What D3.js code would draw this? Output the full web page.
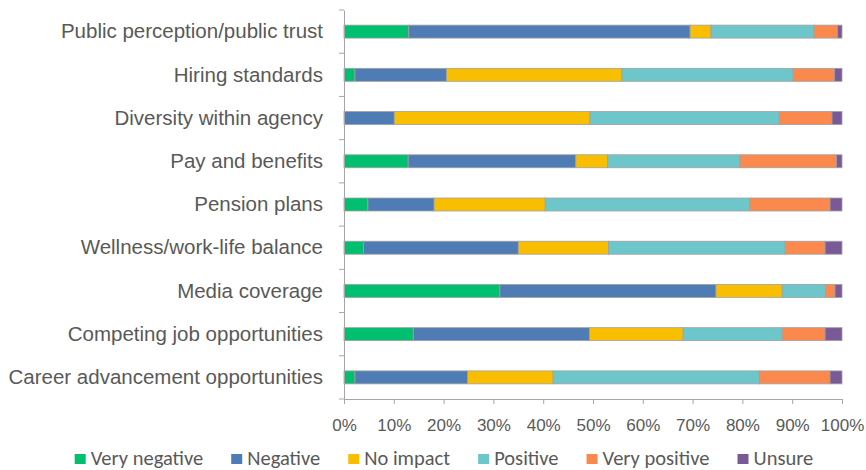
<!DOCTYPE html>
<html>
<head>
<meta charset="utf-8">
<script src="https://cdn.jsdelivr.net/npm/d3@7"></script>
<style>
  html, body { margin: 0; padding: 0; background: #fff; }
  svg { display: block; font-family: Carlito, Lato, "Open Sans", sans-serif; }
</style>
</head>
<body>
<svg id="chart" width="866" height="470"></svg>
<script>
// Factors, listed top to bottom
const categories = [
  "Public perception/public trust",
  "Hiring standards",
  "Diversity within agency",
  "Pay and benefits",
  "Pension plans",
  "Wellness/work-life balance",
  "Media coverage",
  "Competing job opportunities",
  "Career advancement opportunities"
];

// Share of responses (%) per factor, one array per answer
const veryNegative = [13.0, 2.2, 0.0, 12.9, 4.8, 3.9, 31.3, 13.9, 2.2];
const negative     = [56.5, 18.4, 10.1, 33.7, 13.3, 31.1, 43.4, 35.4, 22.6];
const noImpact     = [4.2, 35.2, 39.3, 6.4, 22.3, 18.1, 13.3, 18.8, 17.2];
const positive     = [20.7, 34.4, 38.0, 26.6, 41.1, 35.5, 8.7, 19.9, 41.4];
const veryPositive = [4.7, 8.3, 10.6, 19.4, 16.1, 8.0, 1.9, 8.6, 14.2];
const unsure       = [0.9, 1.5, 2.0, 1.1, 2.4, 3.4, 1.4, 3.4, 2.4];

const seriesNames  = ["Very negative", "Negative", "No impact", "Positive", "Very positive", "Unsure"];
const seriesValues = [veryNegative, negative, noImpact, positive, veryPositive, unsure];
const seriesColors = ["#00bf6f", "#4f7cb4", "#f9be00", "#6dc6ca", "#fb894d", "#795a96"];

const tickValues = [0, 0.1, 0.2, 0.3, 0.4, 0.5, 0.6, 0.7, 0.8, 0.9, 1.0];

// Build rows for d3.stack, normalised to 100%
const rows = categories.map((c, i) => {
  const row = { category: c };
  const total = d3.sum(seriesValues, s => s[i]);
  seriesNames.forEach((k, j) => { row[k] = seriesValues[j][i] / total; });
  return row;
});

const svg = d3.select("#chart");
const textColor = "#595959";
const axisColor = "#a6a6a6";

const x = d3.scaleLinear().domain([0, 1]).range([344, 842]);
const y = d3.scaleBand().domain(categories).range([10, 399])
  .paddingInner(0.7).paddingOuter(0.35);
const color = d3.scaleOrdinal().domain(seriesNames).range(seriesColors);

const stacked = d3.stack().keys(seriesNames)(rows);

// Stacked bars
svg.append("g")
  .selectAll("g")
  .data(stacked)
  .join("g")
    .attr("fill", d => color(d.key))
  .selectAll("rect")
  .data(d => d)
  .join("rect")
    .attr("x", d => x(d[0]))
    .attr("y", d => y(d.data.category))
    .attr("width", d => Math.max(0, x(d[1]) - x(d[0])))
    .attr("height", y.bandwidth())
    .attr("stroke", "#a0a0a0")
    .attr("stroke-width", 0.8);

// X axis
const xAxis = svg.append("g")
  .attr("transform", `translate(0,${y.range()[1]})`)
  .call(d3.axisBottom(x).tickValues(tickValues).tickFormat(d3.format(".0%"))
    .tickSize(5).tickSizeOuter(0));
xAxis.select(".domain").attr("stroke", axisColor);
xAxis.selectAll(".tick line").attr("stroke", axisColor);
xAxis.selectAll(".tick text")
  .attr("fill", textColor)
  .attr("font-size", 17)
  .attr("dy", 24);

// Y axis: category labels and ticks on the band boundaries
const yAxis = svg.append("g")
  .attr("transform", `translate(${x(0)},0)`)
  .call(d3.axisLeft(y).tickSize(0).tickPadding(21));
yAxis.select(".domain").attr("stroke", axisColor);
yAxis.selectAll(".tick text")
  .attr("fill", textColor)
  .attr("font-size", 20.5)
  .attr("dy", "0.33em");

const step = y.step();
const boundaries = d3.range(categories.length + 1).map(i => y.range()[0] + i * step);
yAxis.selectAll(".boundary")
  .data(boundaries)
  .join("line")
    .attr("class", "boundary")
    .attr("x1", -5).attr("x2", 0)
    .attr("y1", d => d).attr("y2", d => d)
    .attr("stroke", axisColor);

// Legend
const legend = svg.append("g").attr("transform", "translate(0,459)");
const items = legend.selectAll("g")
  .data(seriesNames)
  .join("g");
items.append("rect")
  .attr("width", 11).attr("height", 10)
  .attr("y", -5)
  .attr("fill", d => color(d));
items.append("text")
  .attr("x", 16)
  .attr("dy", "0.3em")
  .attr("fill", textColor)
  .attr("font-size", 20.5)
  .text(d => d);

const gap = 28;
let offset = 0;
const widths = [];
items.each(function () {
  const w = 16 + d3.select(this).select("text").node().getComputedTextLength();
  widths.push(w);
});
const totalWidth = d3.sum(widths) + gap * (widths.length - 1);
offset = 444 - totalWidth / 2;
items.attr("transform", (d, i) => {
  const t = `translate(${offset},0)`;
  offset += widths[i] + gap;
  return t;
});
</script>
</body>
</html>
